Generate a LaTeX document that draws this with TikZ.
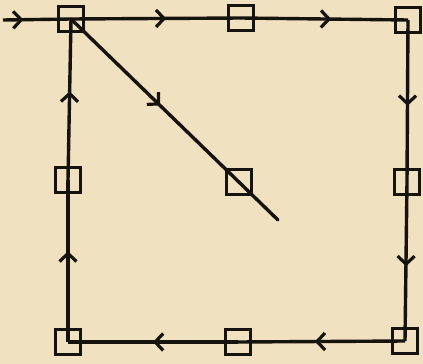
\documentclass[tikz,border=0pt]{standalone}
\usetikzlibrary{arrows.meta,decorations.markings}
\definecolor{paper}{RGB}{240,225,192}
\definecolor{ink}{RGB}{22,18,14}
\begin{document}
\begin{tikzpicture}[x=1pt,y=-1pt,
  box/.style={draw=ink,line width=3.6pt,minimum size=25pt,inner sep=0pt,outer sep=0pt},
  wire/.style={draw=ink,line width=3.4pt},
  midarrow/.style={postaction={decorate},decoration={markings,
     mark=at position #1 with {\arrow[ink,line width=3.2pt]{Straight Barb[length=8pt,width=17pt]}}}}
]
\fill[paper] (0,0) rectangle (423,364);
\useasboundingbox (0,0) rectangle (423,364);
% squares
\node[box] (TL) at (71,19) {};
\node[box] (TM) at (241,18) {};
\node[box] (TR) at (408,20) {};
\node[box] (LM) at (68,180) {};
\node[box] (C)  at (239,182) {};
\node[box] (RM) at (407,182) {};
\node[box] (BL) at (68,342) {};
\node[box] (BM) at (238,342) {};
\node[box] (BR) at (405,341) {};
\coordinate (in) at (3,20);
\coordinate (end) at (278,220);
% connectors
\draw[wire,midarrow=0.3] (in) -- (TL.center);
\draw[wire,midarrow=0.56] (TL.center) -- (TM.center);
\draw[wire,midarrow=0.54] (TM.center) -- (TR.center);
\draw[wire,midarrow=0.53] (TR.center) -- (RM.center);
\draw[wire,midarrow=0.53] (RM.center) -- (BR.center);
\draw[wire,midarrow=0.54] (BR.center) -- (BM.center);
\draw[wire,midarrow=0.5] (BM.center) -- (BL.center);
\draw[wire,midarrow=0.56] (BL.center) -- (LM.center);
\draw[wire,midarrow=0.55] (LM.center) -- (TL.center);
\draw[wire,line cap=round,midarrow=0.43] (TL.center) -- (end);
\end{tikzpicture}
\end{document}
